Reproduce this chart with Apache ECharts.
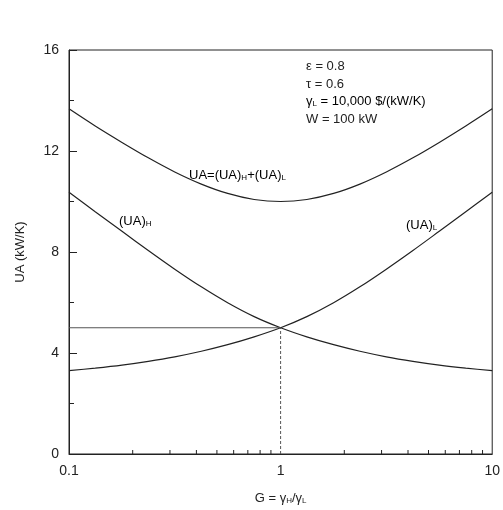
<!DOCTYPE html>
<html>
<head>
<meta charset="utf-8">
<script src="https://cdn.jsdelivr.net/npm/echarts@6/dist/echarts.min.js"></script>
<style>
html,body{margin:0;padding:0;background:#fff;}
#c{width:503px;height:510px;}
</style>
</head>
<body>
<div id="c"></div>
<script>
const G      = [0.1, 0.133, 0.178, 0.237, 0.316, 0.422, 0.562, 0.75, 1, 1.33, 1.78, 2.37, 3.16, 4.22, 5.62, 7.5, 10];
const UA_H   = [10.37, 9.59, 8.82, 8.06, 7.32, 6.62, 5.99, 5.44, 5.0, 4.64, 4.33, 4.07, 3.85, 3.67, 3.52, 3.40, 3.30];
const UA_L   = [3.30, 3.40, 3.52, 3.67, 3.85, 4.07, 4.33, 4.64, 5.0, 5.44, 5.99, 6.62, 7.32, 8.06, 8.82, 9.59, 10.37];
const UA_SUM = [13.67, 12.99, 12.34, 11.73, 11.17, 10.69, 10.32, 10.08, 10.0, 10.08, 10.32, 10.69, 11.17, 11.73, 12.34, 12.99, 13.67];
const xMinorTicks = [0.2,0.3,0.4,0.5,0.6,0.7,0.8,0.9,2,3,4,5,6,7,8,9];
const refH = [[0.1, 5], [1, 5]];
const refV = [[1, 0], [1, 5]];

const font = 'Liberation Sans, Arial, sans-serif';
const ink = '#222';
const pair = (xs, ys) => xs.map((x, i) => [x, ys[i]]);

const chart = echarts.init(document.getElementById('c'));
const sub = {n: {fontSize: 13, color: ink, fontFamily: font}, s: {fontSize: 8, color: ink, fontFamily: font, verticalAlign: 'bottom'}};

chart.setOption({
  animation: false,
  grid: {left: 69, right: 10, top: 50, bottom: 50, show: true, borderColor: ink, borderWidth: 1},
  xAxis: {
    type: 'log', logBase: 10, min: 0.1, max: 10,
    axisLine: {lineStyle: {color: ink}},
    axisTick: {show: false},
    splitLine: {show: false},
    axisLabel: {color: ink, fontSize: 14, fontFamily: font, margin: 10, formatter: v => String(v)},
    name: '{n|G = γ}{s|H}{n|/γ}{s|L}',
    nameLocation: 'middle', nameGap: 38,
    nameTextStyle: {rich: sub}
  },
  yAxis: {
    type: 'value', min: 0, max: 16, interval: 4,
    axisLine: {show: true, lineStyle: {color: ink}},
    axisTick: {show: true, inside: true, length: 8, lineStyle: {color: ink}},
    minorTick: {show: true, splitNumber: 2, length: 5, lineStyle: {color: ink}},
    splitLine: {show: false},
    axisLabel: {color: ink, fontSize: 14, fontFamily: font, margin: 10},
    name: 'UA (kW/K)', nameLocation: 'middle', nameGap: 42,
    nameTextStyle: {color: ink, fontSize: 13, fontFamily: font}
  },
  series: [
    {type: 'line', data: pair(G, UA_SUM), smooth: 0.3, symbol: 'none', lineStyle: {color: ink, width: 1.2}},
    {type: 'line', data: pair(G, UA_H), smooth: 0.3, symbol: 'none', lineStyle: {color: ink, width: 1.2}},
    {type: 'line', data: pair(G, UA_L), smooth: 0.3, symbol: 'none', lineStyle: {color: ink, width: 1.2}},
    {type: 'line', data: refH, symbol: 'none', lineStyle: {color: '#555', width: 1}},
    {type: 'line', data: refV, symbol: 'none', lineStyle: {color: '#555', width: 1, type: [3, 2]}},
    {type: 'custom', data: xMinorTicks.map(v => [v, 0]),
     renderItem: (params, api) => {
       const p = api.coord([api.value(0), 0]);
       return {type: 'line', shape: {x1: p[0], y1: p[1], x2: p[0], y2: p[1] - 4}, style: {stroke: ink, lineWidth: 1}};
     }}
  ],
  graphic: [
    {type: 'text', left: 306, top: 60, style: {text: 'ε = 0.8', fill: ink, font: '13px ' + font}},
    {type: 'text', left: 306, top: 78, style: {text: 'τ = 0.6', fill: ink, font: '13px ' + font}},
    {type: 'text', left: 306, top: 95, style: {text: '{n|γ}{s|L}{n| = 10,000 $/(kW/K)}', rich: sub}},
    {type: 'text', left: 306, top: 113, style: {text: 'W = 100 kW', fill: ink, font: '13px ' + font}},
    {type: 'text', left: 189, top: 169, style: {text: '{n|UA=(UA)}{s|H}{n|+(UA)}{s|L}', rich: sub}},
    {type: 'text', left: 119, top: 215, style: {text: '{n|(UA)}{s|H}', rich: sub}},
    {type: 'text', left: 406, top: 219, style: {text: '{n|(UA)}{s|L}', rich: sub}}
  ]
});
</script>
</body>
</html>
